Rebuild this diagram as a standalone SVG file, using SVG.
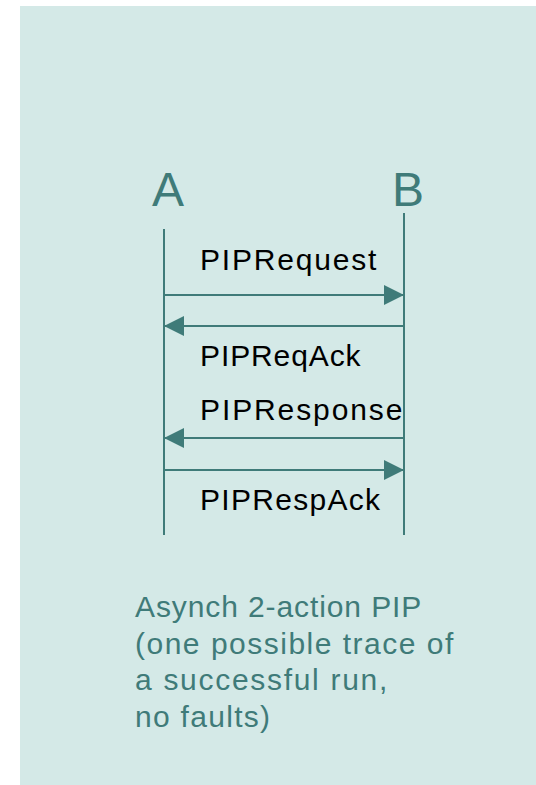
<svg xmlns="http://www.w3.org/2000/svg" width="536" height="785" viewBox="0 0 536 785">
  <style>
    .lifeline { stroke: #3f7b79; stroke-width: 2; fill: none; }
    .msg { stroke: #3f7b79; stroke-width: 2; fill: none; marker-end: url(#head); }
    .actor { font-family: "Liberation Sans", Arial, sans-serif; font-size: 48px; fill: #3f7b79; }
    .label { font-family: "Liberation Sans", Arial, sans-serif; font-size: 30px; fill: #000000; }
    .caption { font-family: "Liberation Sans", Arial, sans-serif; font-size: 30px; fill: #3f7b79; }
  </style>
  <defs>
    <marker id="head" markerUnits="userSpaceOnUse" markerWidth="20" markerHeight="20" refX="20" refY="10" orient="auto">
      <path d="M0,0 L20,10 L0,20 z" fill="#3f7b79"/>
    </marker>
  </defs>

  <!-- background panel -->
  <rect x="20" y="6" width="516" height="779" fill="#d4e9e7"/>

  <!-- participants -->
  <g id="actor-a">
    <text class="actor" x="152" y="206">A</text>
    <line class="lifeline" x1="164" y1="229" x2="164" y2="535"/>
  </g>
  <g id="actor-b">
    <text class="actor" x="392" y="206">B</text>
    <line class="lifeline" x1="404" y1="213" x2="404" y2="535"/>
  </g>

  <!-- messages -->
  <g id="connectors">
    <line class="msg" x1="164" y1="295" x2="404" y2="295"/>
    <line class="msg" x1="404" y1="326" x2="164" y2="326"/>
    <line class="msg" x1="404" y1="438" x2="164" y2="438"/>
    <line class="msg" x1="164" y1="470" x2="404" y2="470"/>
  </g>

  <g id="labels">
    <text class="label" x="200" y="270" letter-spacing="1.8">PIPRequest</text>
    <text class="label" x="200" y="366" letter-spacing="0.9">PIPReqAck</text>
    <text class="label" x="200" y="420" letter-spacing="1.9">PIPResponse</text>
    <text class="label" x="200" y="510" letter-spacing="1.3">PIPRespAck</text>
  </g>

  <g id="caption">
    <text class="caption" x="135" y="617" letter-spacing="0.9">Asynch 2-action PIP</text>
    <text class="caption" x="135" y="654" letter-spacing="1.5">(one possible trace of</text>
    <text class="caption" x="135" y="690" letter-spacing="1.7">a successful run,</text>
    <text class="caption" x="135" y="727" letter-spacing="1.3">no faults)</text>
  </g>
</svg>
